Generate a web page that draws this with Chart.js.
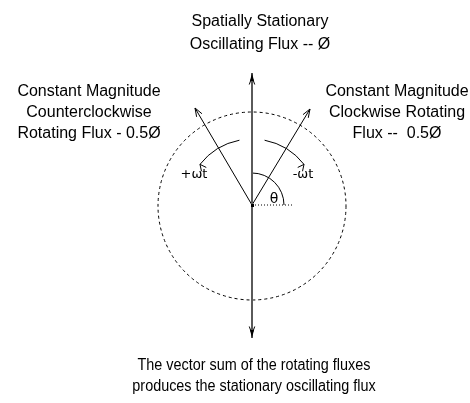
<!DOCTYPE html>
<html>
<head>
<meta charset="utf-8">
<script src="https://cdn.jsdelivr.net/npm/chart.js@4/dist/chart.umd.min.js"></script>
<style>
  html, body { margin: 0; padding: 0; background: #fff; }
  #wrap { width: 470px; height: 403px; }
</style>
</head>
<body>
<div id="wrap"><canvas id="fluxChart" width="470" height="403"></canvas></div>
<script>
// diagram units ~ pixels, origin at the tail of the vectors, y up
let stationaryFlux = [{x: 0, y: -133}, {x: 0, y: 132}];
let ccwFlux = [{x: 0, y: 0}, {x: -57, y: 97}];
let cwFlux = [{x: 0, y: 0}, {x: 58, y: 96}];
let thetaRef = [{x: 0, y: 0}, {x: 41, y: 0}];
let circleRadius = 94;
let thetaArc = {r: 32, from: 0, to: 90};
let ccwArc = {r: 66, from: 101, to: 142};
let cwArc = {r: 66, from: 79, to: 38};

let topLabel = ["Spatially Stationary", "Oscillating Flux -- Ø"];
let leftLabel = ["Constant Magnitude", "Counterclockwise", "Rotating Flux - 0.5Ø"];
let rightLabel = ["Constant Magnitude", "Clockwise Rotating", "Flux --  0.5Ø"];
let bottomLabel = ["The vector sum of the rotating fluxes", "produces the stationary oscillating flux"];
let arcLabels = ["+ωt", "-ωt", "θ"];

const DEG = Math.PI / 180;

function arrowHead(ctx, x, y, ang, len, spread) {
    ctx.beginPath();
    ctx.moveTo(x - len * Math.cos(ang - spread), y - len * Math.sin(ang - spread));
    ctx.lineTo(x, y);
    ctx.lineTo(x - len * Math.cos(ang + spread), y - len * Math.sin(ang + spread));
    ctx.stroke();
}

function drawLines(ctx, lines, x, y, step, squeeze) {
    lines.forEach((t, i) => {
        ctx.save();
        ctx.translate(x, y + i * step);
        ctx.scale(squeeze || 1, 1);
        ctx.fillText(t, 0, 0);
        ctx.restore();
    });
}

const diagramPlugin = {
    id: 'diagram',
    beforeDatasetsDraw(chart) {
        const ctx = chart.ctx;
        const xs = chart.scales.x, ys = chart.scales.y;
        const cx = xs.getPixelForValue(0), cy = ys.getPixelForValue(0);
        const px = r => xs.getPixelForValue(r) - cx;

        ctx.save();
        ctx.strokeStyle = '#000';
        ctx.lineWidth = 1;

        // dashed flux circle
        ctx.setLineDash([3, 3]);
        ctx.beginPath();
        ctx.arc(cx, cy + 1, px(circleRadius), 0, 2 * Math.PI);
        ctx.stroke();
        ctx.setLineDash([]);

        // rotation arcs and theta arc
        [ccwArc, cwArc, thetaArc].forEach((a, i) => {
            const r = px(a.r);
            ctx.beginPath();
            ctx.arc(cx, cy, r, -a.from * DEG, -a.to * DEG, a.to > a.from);
            ctx.stroke();
            if (i < 2) {
                const t = a.to * DEG;
                const tx = cx + r * Math.cos(t), ty = cy - r * Math.sin(t);
                const dir = a.to > a.from ? 1 : -1;
                const ang = Math.atan2(dir * Math.cos(t), -dir * Math.sin(t));
                arrowHead(ctx, tx, ty, ang, 7, 0.45);
            }
        });
        ctx.restore();
    },
    afterDatasetsDraw(chart) {
        const ctx = chart.ctx;
        const xs = chart.scales.x, ys = chart.scales.y;
        const cx = xs.getPixelForValue(0), cy = ys.getPixelForValue(0);

        ctx.save();
        // arrow heads on the vectors
        [0, 1, 2].forEach(i => {
            const pts = chart.getDatasetMeta(i).data;
            const ends = i === 0 ? [[0, 1], [1, 0]] : [[0, 1]];
            ends.forEach(([a, b]) => {
                const p = pts[a], q = pts[b];
                const ang = Math.atan2(q.y - p.y, q.x - p.x);
                ctx.strokeStyle = '#000';
                ctx.lineWidth = 1;
                if (i === 0) {
                    ctx.fillStyle = '#000';
                    ctx.beginPath();
                    ctx.moveTo(q.x, q.y);
                    ctx.lineTo(q.x - 8 * Math.cos(ang) - 2 * Math.sin(ang), q.y - 8 * Math.sin(ang) + 2 * Math.cos(ang));
                    ctx.lineTo(q.x - 8 * Math.cos(ang) + 2 * Math.sin(ang), q.y - 8 * Math.sin(ang) - 2 * Math.cos(ang));
                    ctx.closePath();
                    ctx.fill();
                    arrowHead(ctx, q.x - 4 * Math.cos(ang), q.y - 4 * Math.sin(ang), ang, 8, 0.35);
                } else {
                    arrowHead(ctx, q.x, q.y, ang, 9, 0.35);
                }
            });
        });

        // tail dot
        ctx.fillStyle = '#000';
        ctx.fillRect(cx - 1, cy - 1, 3, 3);

        // texts
        ctx.fillStyle = '#000';
        ctx.textAlign = 'center';
        ctx.textBaseline = 'alphabetic';
        ctx.font = '16px "Liberation Sans", Arial, sans-serif';
        drawLines(ctx, topLabel, cx + 8, cy - 179, 23);
        drawLines(ctx, leftLabel, cx - 163, cy - 109, 21);
        drawLines(ctx, rightLabel, cx + 145, cy - 109, 21);
        drawLines(ctx, bottomLabel, cx + 2, cy + 165, 21, 0.9);

        ctx.font = '13px "DejaVu Sans", sans-serif';
        ctx.fillText(arcLabels[0], cx - 58, cy - 27);
        ctx.fillText(arcLabels[1], cx + 51, cy - 27);
        ctx.font = '14px "DejaVu Sans", sans-serif';
        ctx.fillText(arcLabels[2], cx + 22, cy - 2);
        ctx.restore();
    }
};

new Chart(document.getElementById('fluxChart'), {
    type: 'scatter',
    data: {
        datasets: [
            {data: stationaryFlux, showLine: true, borderColor: '#5a5a5a', borderWidth: 2, pointRadius: 0},
            {data: ccwFlux, showLine: true, borderColor: '#000', borderWidth: 1, pointRadius: 0},
            {data: cwFlux, showLine: true, borderColor: '#000', borderWidth: 1, pointRadius: 0},
            {data: thetaRef, showLine: true, borderColor: '#000', borderWidth: 1, borderDash: [1, 2], pointRadius: 0}
        ]
    },
    options: {
        responsive: false,
        animation: false,
        layout: {padding: 0},
        plugins: {legend: {display: false}, tooltip: {enabled: false}},
        scales: {
            x: {type: 'linear', min: -252, max: 218, display: false},
            y: {type: 'linear', min: -198, max: 205, display: false}
        }
    },
    plugins: [diagramPlugin]
});
</script>
</body>
</html>
